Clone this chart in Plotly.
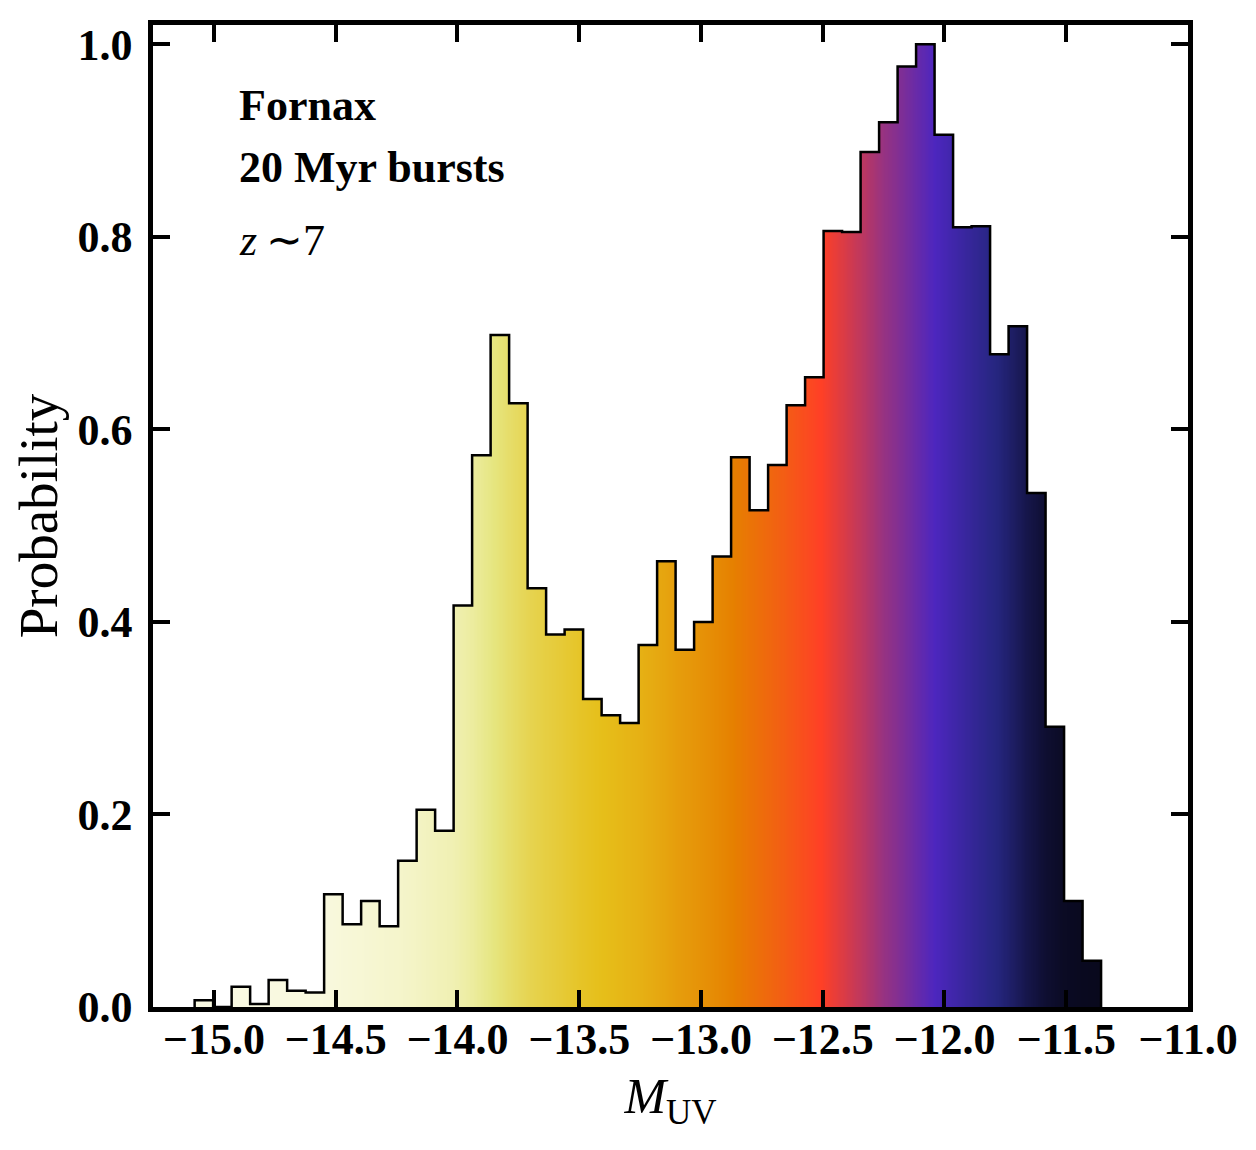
import numpy as np
import plotly.graph_objects as go

# ---------------- data ----------------
bin_start = -15.079          # left edge of first histogram bin (M_UV)
bin_width = 0.07596          # histogram bin width (M_UV)
heights = [0.007, 0.000, 0.021, 0.003, 0.028, 0.017, 0.015,
           0.117, 0.086, 0.110, 0.084, 0.152, 0.205, 0.183,
           0.417, 0.573, 0.698, 0.627, 0.435, 0.387, 0.392,
           0.320, 0.303, 0.295, 0.376, 0.463, 0.371, 0.400,
           0.468, 0.571, 0.516, 0.563, 0.625, 0.654, 0.806,
           0.805, 0.888, 0.919, 0.977, 1.000, 0.906, 0.810,
           0.811, 0.678, 0.707, 0.534, 0.291, 0.110, 0.048]
x_tickvals = [-15.0, -14.5, -14.0, -13.5, -13.0, -12.5, -12.0, -11.5, -11.0]
x_ticktext = ["\u221215.0", "\u221214.5", "\u221214.0", "\u221213.5", "\u221213.0",
              "\u221212.5", "\u221212.0", "\u221211.5", "\u221211.0"]
y_tickvals = [0.0, 0.2, 0.4, 0.6, 0.8, 1.0]
y_ticktext = ["0.0", "0.2", "0.4", "0.6", "0.8", "1.0"]
label_lines = ["<b>Fornax</b>", "<b>20 Myr bursts</b>", "<i>z</i>\u2009\u223c7"]

# ---------------- derived geometry ----------------
h = np.array(heights)
edges = bin_start + bin_width * np.arange(len(h) + 1)

# colour of the fill follows the cumulative distribution (CMRmap_r)
K = 16
sub = np.linspace(0.0, 1.0, K + 1)
xcols = np.append((edges[:-1, None] + bin_width * sub[None, :-1]).ravel(), edges[-1])
frac_c = 0.5 * (sub[:-1] + sub[1:])
cum = np.concatenate([[0.0], np.cumsum(h)])
cdf_c = ((cum[:-1, None] + h[:, None] * frac_c[None, :]) / cum[-1]).ravel()
hcol = np.repeat(h, K)
ylev = np.unique(np.concatenate([[0.0], h]))
z = np.where(hcol[None, :] >= ylev[1:, None] - 1e-12, cdf_c[None, :], np.nan)

cmr_r = [
    [0.000, "rgb(255,255,255)"],
    [0.125, "rgb(230,230,128)"],
    [0.250, "rgb(230,191,26)"],
    [0.375, "rgb(230,128,0)"],
    [0.500, "rgb(255,64,38)"],
    [0.625, "rgb(153,51,128)"],
    [0.750, "rgb(77,38,191)"],
    [0.875, "rgb(38,38,128)"],
    [1.000, "rgb(0,0,0)"],
]

fig = go.Figure()
fig.add_trace(go.Heatmap(
    x=xcols, y=ylev, z=z, colorscale=cmr_r, zmin=-0.03, zmax=1.03,
    showscale=False, hoverinfo="skip", zsmooth=False,
))

xs = np.repeat(edges, 2)
ys = np.concatenate([[0.0], np.repeat(h, 2), [0.0]])
fig.add_trace(go.Scatter(
    x=xs, y=ys, mode="lines", line=dict(color="black", width=2.5),
    hoverinfo="skip", showlegend=False,
))

serif = "Liberation Serif"
tickfont = dict(family=serif, size=44, color="black", weight=700)

fig.update_layout(
    width=1256, height=1150,
    margin=dict(l=145, r=76, t=12, b=151),
    paper_bgcolor="white", plot_bgcolor="white",
    showlegend=False,
)
fig.update_xaxes(
    range=[-15.25, -11.0], showgrid=False, zeroline=False,
    showline=True, linewidth=4.5, linecolor="black", mirror="ticks",
    ticks="inside", ticklen=17, tickwidth=3.5, tickcolor="black",
    tickmode="array", tickvals=x_tickvals, ticktext=x_ticktext,
    tickfont=tickfont, ticklabelstandoff=-11,
    title=dict(text="<i>M</i><sub>UV</sub>", font=dict(family=serif, size=50, color="black"),
               standoff=17),
)
fig.update_yaxes(
    range=[0, 1.02], showgrid=False, zeroline=False,
    showline=True, linewidth=4.5, linecolor="black", mirror="ticks",
    ticks="inside", ticklen=17, tickwidth=3.5, tickcolor="black",
    tickmode="array", tickvals=y_tickvals, ticktext=y_ticktext,
    tickfont=tickfont, ticklabelstandoff=7,
    title=dict(text="Probability", font=dict(family=serif, size=55, color="black"),
               standoff=8),
)

ypos = [0.9185, 0.8545, 0.7806]
for txt, yp in zip(label_lines, ypos):
    fig.add_annotation(
        text=txt, xref="paper", yref="paper", x=0.0811, y=yp,
        xanchor="left", yanchor="middle", showarrow=False,
        font=dict(family=serif, size=44, color="black"),
    )

fig.write_html("out.html")
